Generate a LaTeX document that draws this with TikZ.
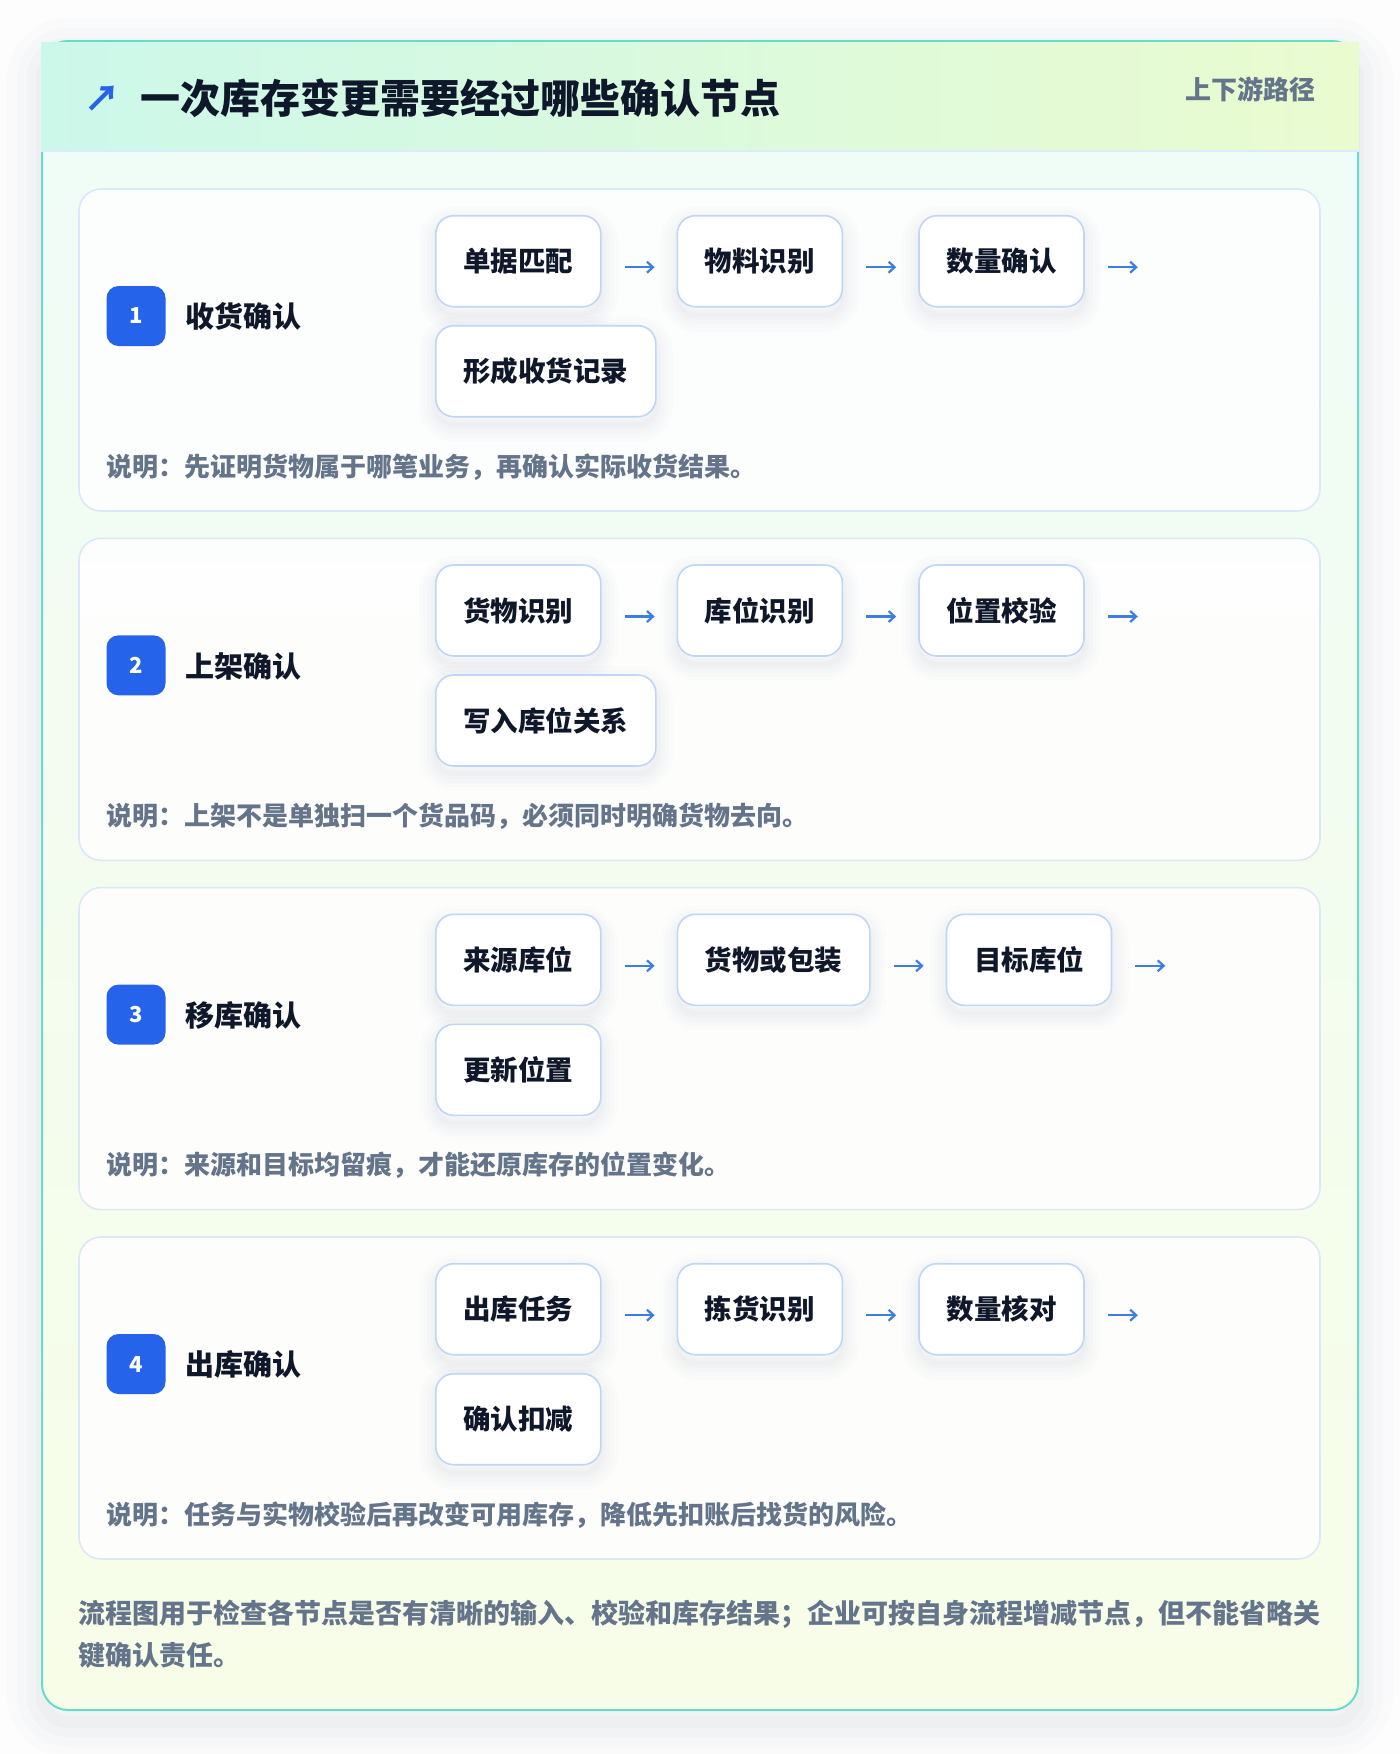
\documentclass[tikz,border=0pt]{standalone}
\usepackage{fontspec}
\setmainfont{Noto Sans CJK SC}[BoldFont={Noto Sans CJK SC Black}]
\usetikzlibrary{arrows.meta,positioning,calc}
\definecolor{pagebg}{HTML}{FDFDFD}
\definecolor{cardb}{HTML}{66DDCB}
\definecolor{headL}{HTML}{CCF8EA}
\definecolor{headR}{HTML}{EAFBCF}
\definecolor{headline}{HTML}{DBEAFE}
\definecolor{cardtop}{HTML}{EFFCF7}
\definecolor{cardbot}{HTML}{F7FDE7}
\definecolor{secb}{HTML}{DCE8FA}
\definecolor{boxb}{HTML}{BFD7F5}
\definecolor{ink}{HTML}{0F172A}
\definecolor{muted}{HTML}{64748B}
\definecolor{badgeblue}{HTML}{2563EB}
\definecolor{arrowblue}{HTML}{3B7FE6}
\definecolor{shadowc}{HTML}{334155}
\newcommand\fsz[1]{\fontsize{#1}{#1}\selectfont}
\tikzset{
  secstyle/.style={draw=secb, line width=1.6pt, fill=white, fill opacity=0.85, draw opacity=1, rounded corners=22pt},
  softshadow/.style={preaction={draw=shadowc, draw opacity=0.012, line width=#1,
    transform canvas={yshift=-8pt}}},
  fbox/.style={draw=boxb, line width=1.6pt, fill=white, rounded corners=18pt, minimum height=91pt,
    inner xsep=27.5pt, inner ysep=0pt, font=\fsz{27.5}\bfseries, text=ink,
    softshadow=34pt, softshadow=26pt, softshadow=18pt, softshadow=10pt, softshadow=4pt},
  badge/.style={fill=badgeblue, rounded corners=12pt, minimum width=59pt, minimum height=60pt,
    inner sep=0pt, text=white, font=\fsz{22}\bfseries},
  seclabel/.style={font=\fsz{29}\bfseries, text=ink, inner sep=0pt},
  note/.style={font=\fsz{26}\bfseries, text=muted, inner sep=0pt},
  flowarr/.style={draw=arrowblue, line width=2.2pt, -{Straight Barb[length=6pt,width=11pt]},
    shorten <=23pt, shorten >=22pt},
}
\newcommand\secframe[5]{%
  \path[secstyle] (79,#2) rectangle (1320,#2+322);
  \node[badge] (badge#1) at (136,#2+127) {#3};
  \node[seclabel, anchor=west] (label#1) at (185,#2+127.7) {#4};
  \node[note, anchor=west] (note#1) at (106,#2+277.7) {#5};
}
\newcommand\flowrow[6]{% id, top, a, b, c, d
  \node[fbox, anchor=west] (#1a) at (435,#2+72.2) {#3};
  \node[fbox, right=75pt of #1a] (#1b) {#4};
  \node[fbox, right=75pt of #1b] (#1c) {#5};
  \coordinate[right=75pt of #1c] (#1end);
  \node[fbox, anchor=west] (#1d) at (435,#2+182.2) {#6};
  \draw[flowarr] ([yshift=-6pt]#1a.east) -- ([yshift=-6pt]#1b.west);
  \draw[flowarr] ([yshift=-6pt]#1b.east) -- ([yshift=-6pt]#1c.west);
  \draw[flowarr] ([yshift=-6pt]#1c.east) -- ([yshift=-6pt]#1end);
}
\begin{document}
\begin{tikzpicture}[x=1pt,y=-1pt]
\useasboundingbox (0,0) rectangle (1400,1754);
\fill[pagebg] (0,0) rectangle (1400,1754);
% outer card shadow
\foreach \w/\o in {70/0.012, 50/0.015, 30/0.018, 12/0.02}{
  \draw[shadowc, draw opacity=\o, line width=\w pt, rounded corners=26pt] (42,53) rectangle (1358,1722);
}
% outer card
\shade[top color=cardtop, bottom color=cardbot, rounded corners=26pt] (42,41) rectangle (1358,1710);
\draw[cardb, line width=2pt, rounded corners=26pt] (42,41) rectangle (1358,1710);
% header
\shade[left color=headL, right color=headR] (41,42) rectangle (1359,151);
\draw[headline, line width=2pt] (41,151) -- (1359,151);
\draw[cardb, line width=2pt] (67,41) -- (1333,41);
\node[font=\fsz{36}\bfseries, text=badgeblue, inner sep=0pt] (icon) at (102,99) {↗};
\node[font=\fsz{40}\bfseries, text=ink, anchor=west, inner sep=0pt] (title) at (140,98) {一次库存变更需要经过哪些确认节点};
\node[font=\fsz{26}\bfseries, text=muted, anchor=east, inner sep=0pt] (tag) at (1316,89) {上下游路径};
% sections
\secframe{1}{189}{1}{收货确认}{说明：先证明货物属于哪笔业务，再确认实际收货结果。}
\flowrow{s1}{189}{单据匹配}{物料识别}{数量确认}{形成收货记录}
\secframe{2}{538.3}{2}{上架确认}{说明：上架不是单独扫一个货品码，必须同时明确货物去向。}
\flowrow{s2}{538.3}{货物识别}{库位识别}{位置校验}{写入库位关系}
\secframe{3}{887.6}{3}{移库确认}{说明：来源和目标均留痕，才能还原库存的位置变化。}
\flowrow{s3}{887.6}{来源库位}{货物或包装}{目标库位}{更新位置}
\secframe{4}{1237}{4}{出库确认}{说明：任务与实物校验后再改变可用库存，降低先扣账后找货的风险。}
\flowrow{s4}{1237}{出库任务}{拣货识别}{数量核对}{确认扣减}
% footer
\node[font=\fsz{27}\bfseries, text=muted, anchor=north west, inner sep=0pt, align=left] (foot) at (78,1600)
  {流程图用于检查各节点是否有清晰的输入、校验和库存结果；企业可按自身流程增减节点，但不能省略关\\[13pt]键确认责任。};
\end{tikzpicture}
\end{document}
